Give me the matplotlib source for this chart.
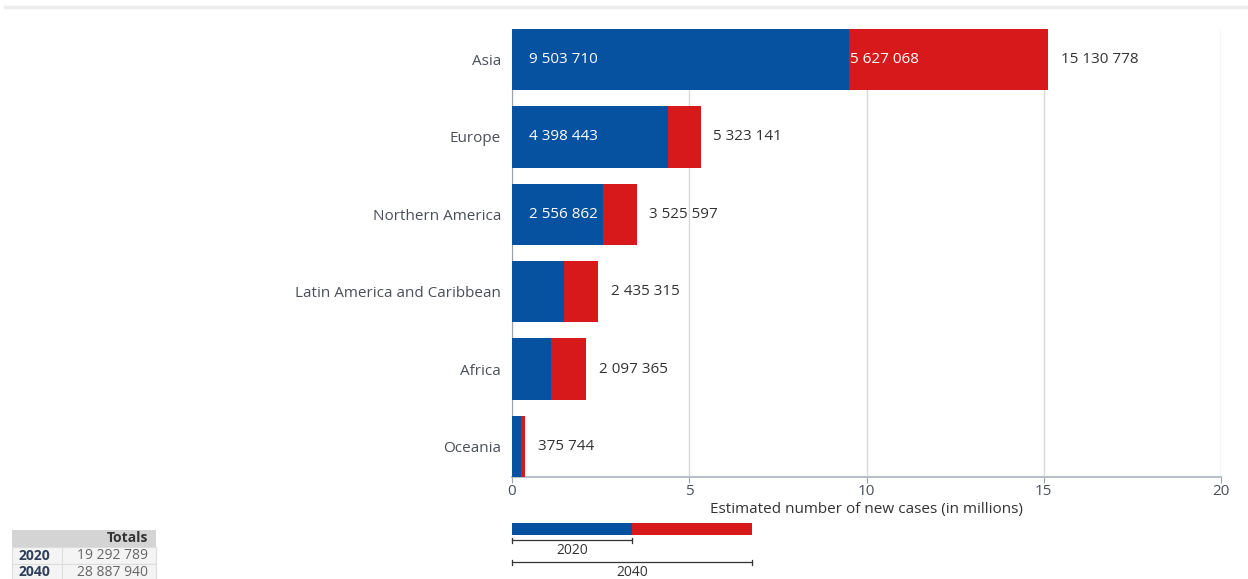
#!/usr/bin/env python3
"""
Estimated number of new cancer cases by region, 2020 vs 2040.
"""

import matplotlib.pyplot as plt
from matplotlib.patches import Rectangle

plt.rcParams['font.family'] = ['Open Sans', 'DejaVu Sans']

regions = ["Asia", "Europe", "Northern America",
           "Latin America and Caribbean", "Africa", "Oceania"]
cases_2020 = [9503710, 4398443, 2556862, 1470274, 1109209, 254168]
cases_2040 = [15130778, 5323141, 3525597, 2435315, 2097365, 375744]
inside_2020 = [True, True, True, False, False, False]
inside_2040 = [True, False, False, False, False, False]

totals_years = ["2020", "2040"]
totals_values = [19292789, 28887940]

# legend key segments (relative lengths)
key_years = ["2020", "2040"]
key_lengths = [1.0, 2.0]

BLUE = "#0652a0"
RED = "#d8191b"
TEXT = "#4a4f5a"
GRID = "#d9d9d9"
FS = 11


def fmt(n):
    return f"{n:,}".replace(",", " ")


def main():
    fig = plt.figure(figsize=(12.48, 5.79), dpi=100)

    # thin grey rule across the top
    fig.add_artist(plt.Line2D([0.004, 1.0], [0.988, 0.988], color="#ececec",
                              lw=2.5, transform=fig.transFigure))

    ax = fig.add_axes([512 / 1248, 102 / 579, 709 / 1248, 448 / 579])
    y = list(range(len(regions)))
    h = 61 / 77
    m20 = [v / 1e6 for v in cases_2020]
    m40 = [v / 1e6 for v in cases_2040]
    extra = [b - a for a, b in zip(m20, m40)]

    ax.barh(y, m20, height=h, color=BLUE, zorder=3)
    ax.barh(y, extra, left=m20, height=h, color=RED, zorder=3)

    for i in y:
        if inside_2020[i]:
            ax.annotate(fmt(cases_2020[i]), (0, i), xytext=(12, 0),
                        textcoords="offset points", va="center", ha="left",
                        color="white", fontsize=FS, zorder=4)
        if inside_2040[i]:
            ax.annotate(fmt(cases_2040[i] - cases_2020[i]), (m20[i], i),
                        xytext=(1, 0), textcoords="offset points",
                        va="center", ha="left", color="white",
                        fontsize=FS, zorder=4)
        ax.annotate(fmt(cases_2040[i]), (m40[i], i), xytext=(9, 0),
                    textcoords="offset points", va="center", ha="left",
                    color="#333333", fontsize=FS, zorder=4)

    ax.set_xlim(0, 20)
    ax.set_ylim(len(regions) - 1 + h / 2, -h / 2)
    ax.set_yticks(y)
    ax.set_yticklabels(regions, color=TEXT, fontsize=FS)
    ax.set_xticks([0, 5, 10, 15, 20])
    ax.tick_params(axis="x", colors=TEXT, labelsize=FS, length=4,
                   color="#9aa3ad", pad=1)
    ax.tick_params(axis="y", length=0, pad=8)
    ax.grid(axis="x", color=GRID, lw=1, zorder=0)
    for s in ["top", "right"]:
        ax.spines[s].set_visible(False)
    ax.spines["left"].set_color("#9aa3ad")
    ax.spines["bottom"].set_color("#b8c0c8")
    ax.spines["bottom"].set_linewidth(1.5)
    ax.set_xlabel("Estimated number of new cases (in millions)",
                  color="#333333", fontsize=FS, labelpad=2)

    # legend key below the axis, y in pixels from y=519 downwards
    kx = fig.add_axes([512 / 1248, 0, 240 / 1248, 60 / 579])
    kx.set_xlim(0, max(key_lengths))
    kx.set_ylim(60, 0)
    kx.axis("off")
    kx.add_patch(Rectangle((0, 4), key_lengths[0], 12, color=BLUE, lw=0))
    kx.add_patch(Rectangle((key_lengths[0], 4), key_lengths[1] - key_lengths[0],
                           12, color=RED, lw=0))
    for yr, L, yb in zip(key_years, key_lengths, [21, 43]):
        kx.plot([0, L], [yb, yb], color="#333333", lw=0.9, clip_on=False)
        for xe in (0, L):
            kx.plot([xe, xe], [yb - 2.5, yb + 2.5], color="#333333", lw=0.9,
                    clip_on=False)
        kx.text(L / 2, yb + 10, yr, ha="center", va="center",
                color="#333333", fontsize=FS - 1, clip_on=False)

    # small totals table in the corner
    tx = fig.add_axes([0, 0, 1, 1], facecolor="none")
    tx.set_xlim(0, 1248)
    tx.set_ylim(579, 0)
    tx.axis("off")
    x0, x1, x2 = 12, 62, 156
    rh = 17
    ytop = 530
    tx.add_patch(Rectangle((x0, ytop), x2 - x0, rh, color="#d4d4d4", lw=0))
    tx.text(x2 - 8, ytop + rh / 2, "Totals", ha="right", va="center",
            fontsize=10, fontweight="bold", color="#333333")
    for k, (yr, val) in enumerate(zip(totals_years, totals_values)):
        yt = ytop + rh * (k + 1)
        tx.add_patch(Rectangle((x0, yt), x2 - x0, rh, facecolor="#f4f4f4",
                               edgecolor="#dddddd", lw=0.8))
        tx.plot([x1, x1], [yt, yt + rh], color="#dddddd", lw=0.8)
        tx.text(x0 + 7, yt + rh / 2, yr, ha="left", va="center",
                fontsize=10, fontweight="bold", color="#2f3e5a")
        tx.text(x2 - 8, yt + rh / 2, fmt(val), ha="right", va="center",
                fontsize=10, color="#666666")

    fig.savefig("out.png", dpi=100)


if __name__ == "__main__":
    main()
